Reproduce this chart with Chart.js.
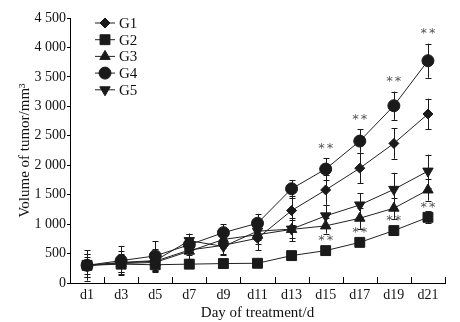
<!DOCTYPE html>
<html>
<head>
<meta charset="utf-8">
<script src="https://cdn.jsdelivr.net/npm/chart.js@4"></script>
<style>
  html, body { margin: 0; padding: 0; background: #fff; }
  #wrap { width: 460px; height: 322px; }
</style>
</head>
<body>
<div id="wrap"><canvas id="tumorChart"></canvas></div>
<script>
// === Data ===
const days = ["d1", "d3", "d5", "d7", "d9", "d11", "d13", "d15", "d17", "d19", "d21"];

const g1 = [300, 340, 370, 560, 640, 760, 1230, 1580, 1950, 2370, 2870];
const g2 = [300, 320, 310, 320, 330, 335, 465, 550, 690, 890, 1115];
const g3 = [300, 330, 350, 540, 740, 820, 910, 970, 1100, 1270, 1580];
const g4 = [300, 380, 460, 650, 855, 1015, 1600, 1935, 2410, 3010, 3775];
const g5 = [300, 350, 380, 720, 620, 880, 915, 1140, 1325, 1590, 1900];

// +/- error (SD)
const g1Err = [200, 150, 150, 150, 150, 200, 250, 250, 260, 260, 260];
const g2Err = [60, 50, 50, 40, 40, 40, 50, 60, 60, 80, 100];
const g3Err = [150, 150, 150, 150, 150, 150, 200, 130, 180, 180, 180];
const g4Err = [260, 250, 250, 180, 140, 160, 150, 180, 200, 240, 290];
const g5Err = [200, 200, 200, 120, 150, 150, 150, 190, 200, 280, 280];

// "**" markers (day indices) for G4 and G2
const g4Stars = [7, 8, 9, 10];
const g2Stars = [7, 8, 9, 10];

const yTicks = [0, 500, 1000, 1500, 2000, 2500, 3000, 3500, 4000, 4500];

const FONT = "'Liberation Serif', 'Times New Roman', serif";
const INK = "#1a1a1a";

// === Helpers ===
function fmtThousands(v) {
  if (v < 1000) return String(v);
  return Math.floor(v / 1000) + " " + String(v % 1000).padStart(3, "0");
}

function series(label, data, err, style, radius, rotation) {
  return {
    label,
    data,
    err,
    borderColor: "#222",
    borderWidth: 1,
    backgroundColor: INK,
    pointBackgroundColor: INK,
    pointBorderColor: INK,
    pointBorderWidth: 1,
    pointStyle: style,
    pointRadius: radius,
    pointRotation: rotation || 0,
    tension: 0,
    fill: false,
  };
}

// === Error bars under the markers ===
const errorBars = {
  id: "errorBars",
  beforeDatasetsDraw(chart) {
    const { ctx, scales } = chart;
    const y = scales.y;
    ctx.save();
    ctx.strokeStyle = INK;
    ctx.lineWidth = 1;
    chart.data.datasets.forEach((ds, di) => {
      const meta = chart.getDatasetMeta(di);
      meta.data.forEach((pt, i) => {
        const e = ds.err[i];
        const top = y.getPixelForValue(ds.data[i] + e);
        const bot = y.getPixelForValue(ds.data[i] - e);
        const x = Math.round(pt.x) + 0.5;
        ctx.beginPath();
        ctx.moveTo(x, top);
        ctx.lineTo(x, bot);
        ctx.moveTo(x - 3, Math.round(top) + 0.5);
        ctx.lineTo(x + 3, Math.round(top) + 0.5);
        ctx.moveTo(x - 3, Math.round(bot) + 0.5);
        ctx.lineTo(x + 3, Math.round(bot) + 0.5);
        ctx.stroke();
      });
    });
    ctx.restore();
  },
};

// === Significance stars ===
const stars = {
  id: "stars",
  afterDatasetsDraw(chart) {
    const { ctx, scales } = chart;
    const y = scales.y;
    ctx.save();
    ctx.fillStyle = "#555";
    ctx.font = "13px 'DejaVu Sans', sans-serif";
    ctx.letterSpacing = "2px";
    ctx.textAlign = "center";
    ctx.textBaseline = "middle";
    const m4 = chart.getDatasetMeta(3);
    g4Stars.forEach((i) => {
      const top = y.getPixelForValue(g4[i] + g4Err[i]);
      ctx.fillText("**", m4.data[i].x + 1, top - 10);
    });
    const m2 = chart.getDatasetMeta(1);
    g2Stars.forEach((i) => {
      const py = y.getPixelForValue(g2[i]);
      ctx.fillText("**", m2.data[i].x + 1, py - 10);
    });
    ctx.restore();
  },
};

// === Inward x ticks between days + custom legend ===
const decor = {
  id: "decor",
  afterDraw(chart) {
    const { ctx, scales, chartArea } = chart;
    const x = scales.x;
    const n = days.length;
    ctx.save();
    ctx.strokeStyle = "#000";
    ctx.lineWidth = 1;
    const half = (x.getPixelForValue(1) - x.getPixelForValue(0)) / 2;
    ctx.beginPath();
    for (let i = 0; i < n; i++) {
      const px = Math.round(x.getPixelForValue(i) + half) + 0.5;
      ctx.moveTo(px, chartArea.bottom);
      ctx.lineTo(px, chartArea.bottom - 6);
    }
    ctx.stroke();

    // legend: line through marker, label on the right
    ctx.font = "15px " + FONT;
    ctx.textBaseline = "middle";
    ctx.textAlign = "left";
    chart.data.datasets.forEach((ds, i) => {
      const ly = chartArea.top + 5 + i * 16.7;
      ctx.strokeStyle = "#222";
      ctx.beginPath();
      ctx.moveTo(95, ly);
      ctx.lineTo(115, ly);
      ctx.stroke();
      ctx.fillStyle = INK;
      ctx.strokeStyle = INK;
      Chart.helpers.drawPoint(ctx, {
        pointStyle: ds.pointStyle,
        radius: ds.pointRadius,
        rotation: ds.pointRotation,
        borderWidth: 1,
      }, 105, ly);
      ctx.fillStyle = "#111";
      ctx.fillText(ds.label, 119, ly + 1);
    });
    ctx.restore();
  },
};

// === Build chart ===
new Chart(document.getElementById("tumorChart"), {
  type: "line",
  data: {
    labels: days,
    datasets: [
      series("G1", g1, g1Err, "rectRot", 5),
      series("G2", g2, g2Err, "rect", 7),
      series("G3", g3, g3Err, "triangle", 6),
      series("G4", g4, g4Err, "circle", 6),
      series("G5", g5, g5Err, "triangle", 6, 180),
    ],
  },
  options: {
    responsive: true,
    maintainAspectRatio: false,
    animation: false,
    layout: { padding: { top: 18, right: 15, bottom: 0, left: 0 } },
    plugins: {
      legend: { display: false },
      tooltip: { enabled: false },
    },
    scales: {
      x: {
        offset: true,
        grid: { display: false, drawTicks: false },
        border: { display: true, color: "#000", width: 1 },
        ticks: { color: "#111", font: { family: FONT, size: 14 }, padding: 4, maxRotation: 0, autoSkip: false },
        title: {
          display: true,
          text: "Day of treatment/d",
          color: "#111",
          font: { family: FONT, size: 15 },
          padding: { top: 0, bottom: 0 },
        },
        afterFit: (s) => { s.height = 39; },
      },
      y: {
        min: 0,
        max: 4500,
        afterBuildTicks: (s) => { s.ticks = yTicks.map((v) => ({ value: v })); },
        grid: { display: true, drawOnChartArea: false, tickLength: 3, color: "#000" },
        border: { display: true, color: "#000", width: 1 },
        ticks: {
          color: "#111",
          font: { family: FONT, size: 14 },
          padding: 1,
          callback: (v) => fmtThousands(v),
        },
        title: {
          display: true,
          text: "Volume of tumor/mm³",
          color: "#111",
          font: { family: FONT, size: 15 },
          padding: { top: 16, bottom: 0 },
        },
        afterFit: (s) => { s.width = 70; },
      },
    },
  },
  plugins: [errorBars, stars, decor],
});
</script>
</body>
</html>
